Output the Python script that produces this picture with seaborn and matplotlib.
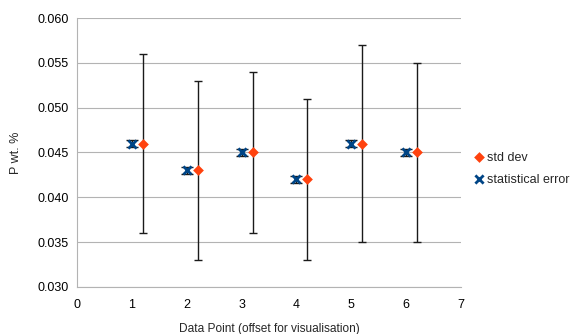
import matplotlib
matplotlib.use("Agg")
import matplotlib.pyplot as plt
import seaborn as sns
import pandas as pd

# Data
points = [1, 2, 3, 4, 5, 6]
offset_x = [1.2, 2.2, 3.2, 4.2, 5.2, 6.2]
p_wt = [0.046, 0.043, 0.045, 0.042, 0.046, 0.045]
std_dev = [0.010, 0.010, 0.009, 0.009, 0.011, 0.010]
stat_err = [0.0004, 0.0004, 0.0004, 0.0004, 0.0004, 0.0004]
x_ticks = [0, 1, 2, 3, 4, 5, 6, 7]
y_ticks = [0.030, 0.035, 0.040, 0.045, 0.050, 0.055, 0.060]

sns.set_style("white")
plt.rcParams['font.family'] = ['Liberation Sans', 'DejaVu Sans']

fig = plt.figure(figsize=(5.83, 3.34), dpi=100)
ax = fig.add_axes([0.132, 0.141, 0.659, 0.805])

orange = "#ff420e"
blue = "#004586"

df_std = pd.DataFrame({"x": offset_x, "y": p_wt, "err": std_dev})
df_stat = pd.DataFrame({"x": points, "y": p_wt, "err": stat_err})

ax.errorbar(df_std["x"], df_std["y"], yerr=df_std["err"], fmt="none",
            ecolor="#1a1a1a", elinewidth=1, capsize=3, capthick=1, zorder=2)
ax.errorbar(df_stat["x"], df_stat["y"], yerr=df_stat["err"], fmt="none",
            ecolor="#1a1a1a", elinewidth=1, capsize=4, capthick=1, zorder=2)

sns.scatterplot(data=df_std, x="x", y="y", marker="D", s=30, color=orange,
                edgecolor=orange, linewidth=0, ax=ax, label="std dev", zorder=3)
sns.scatterplot(data=df_stat, x="x", y="y", marker="x", s=35, color=blue,
                linewidth=2, ax=ax, label="statistical error", zorder=3)

ax.set_xlim(0, 7)
ax.set_ylim(0.030, 0.060)
ax.set_xticks(x_ticks)
ax.set_yticks(y_ticks)
ax.set_yticklabels([f"{v:.3f}" for v in y_ticks])
ax.yaxis.grid(True, color="#b3b3b3", linewidth=0.8)
ax.set_axisbelow(True)
for s in ["top", "right"]:
    ax.spines[s].set_visible(False)
for s in ["left", "bottom"]:
    ax.spines[s].set_color("#b3b3b3")
    ax.spines[s].set_linewidth(0.8)
ax.tick_params(axis="both", direction="out", length=4, width=0.8, color="#b3b3b3",
               labelsize=9, labelcolor="#000000", pad=2)
ax.tick_params(axis="x", pad=5)
ax.set_xlabel("Data Point (offset for visualisation)", fontsize=8.6, labelpad=8)
ax.set_ylabel("P wt. %", fontsize=9, labelpad=11)

leg = ax.legend(loc="center left", bbox_to_anchor=(1.0, 0.44), frameon=False,
                fontsize=9, handletextpad=0.1, handlelength=1.2, borderaxespad=0.4,
                labelspacing=0.8)

fig.savefig("out.png", dpi=100)
